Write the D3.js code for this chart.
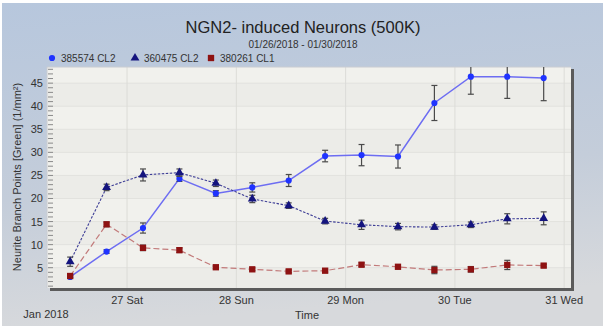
<!DOCTYPE html>
<html>
<head>
<meta charset="utf-8">
<script src="https://cdn.jsdelivr.net/npm/d3@7"></script>
<style>
  html, body { margin: 0; padding: 0; background: #fff; }
  text { font-family: "Liberation Sans", Arial, sans-serif; }
</style>
</head>
<body>
<div id="chart"></div>
<script>
/**
 * CONSTANTS AND GLOBALS
 * */
const width = 605,
  height = 328,
  panel = { left: 47, top: 67, right: 571, bottom: 288 };

// sample times (every 8 hours)
const times = [
  "2018-01-26 11:30", "2018-01-26 19:30", "2018-01-27 03:30", "2018-01-27 11:30",
  "2018-01-27 19:30", "2018-01-28 03:30", "2018-01-28 11:30", "2018-01-28 19:30",
  "2018-01-29 03:30", "2018-01-29 11:30", "2018-01-29 19:30", "2018-01-30 03:30",
  "2018-01-30 11:30", "2018-01-30 19:30",
];

// 385574 CL2
const valuesA = [3.0, 8.5, 13.6, 24.3, 21.1, 22.4, 23.9, 29.2, 29.4, 29.1, 40.7, 46.4, 46.4, 46.1];
const errorsA = [0.3, 0.4, 1.1, 0.6, 0.6, 1.0, 1.3, 1.25, 2.3, 2.5, 3.8, 3.8, 4.7, 4.9];
// 360475 CL2
const valuesB = [6.3, 22.4, 25.1, 25.6, 23.3, 19.9, 18.45, 15.1, 14.3, 13.9, 13.8, 14.3, 15.6, 15.7];
const errorsB = [1.0, 0.7, 1.3, 0.8, 0.7, 0.8, 0.6, 0.6, 1.0, 0.7, 0.5, 0.6, 1.1, 1.4];
// 380261 CL1
const valuesC = [3.2, 14.4, 9.3, 8.8, 5.1, 4.65, 4.2, 4.35, 5.65, 5.2, 4.5, 4.65, 5.6, 5.45];
const errorsC = [0.3, 0.5, 0.6, 0.5, 0.3, 0.3, 0.3, 0.3, 0.4, 0.4, 0.8, 0.6, 1.0, 0.3];

const seriesNames = ["385574 CL2", "360475 CL2", "380261 CL1"];

// axis ticks
const xTickDays = ["2018-01-27", "2018-01-28", "2018-01-29", "2018-01-30", "2018-01-31"];
const yTicks = [5, 10, 15, 20, 25, 30, 35, 40, 45];
const yDomain = [0.6, 48.5];
const xDomain = ["2018-01-26 06:25", "2018-01-31 01:30"];

const parseTime = d3.timeParse("%Y-%m-%d %H:%M");
const parseDay = d3.timeParse("%Y-%m-%d");

let svg;

/**
 * INITIALIZING FUNCTION
 * */
function init() {
  const x = d3.scaleTime()
    .domain(xDomain.map(parseTime))
    .range([panel.left, panel.right]);
  const y = d3.scaleLinear()
    .domain(yDomain)
    .range([panel.bottom, panel.top]);

  svg = d3.select("#chart")
    .append("svg")
    .attr("width", width)
    .attr("height", height);

  const defs = svg.append("defs");
  const grad = defs.append("linearGradient")
    .attr("id", "bg")
    .attr("x1", 0).attr("y1", 0).attr("x2", 0.15).attr("y2", 1);
  grad.append("stop").attr("offset", "0%").attr("stop-color", "#b7c7dd");
  grad.append("stop").attr("offset", "60%").attr("stop-color", "#c4cdda");
  grad.append("stop").attr("offset", "100%").attr("stop-color", "#d7d9dc");

  defs.append("clipPath").attr("id", "clip")
    .append("rect")
    .attr("x", panel.left).attr("y", panel.top)
    .attr("width", panel.right - panel.left)
    .attr("height", panel.bottom - panel.top);

  // outer background
  svg.append("rect")
    .attr("x", 2).attr("y", 3)
    .attr("width", width - 4).attr("height", height - 5)
    .attr("fill", "url(#bg)");

  // panel
  svg.append("rect")
    .attr("x", panel.left).attr("y", panel.top)
    .attr("width", panel.right - panel.left)
    .attr("height", panel.bottom - panel.top)
    .attr("fill", "#efefeb");

  // alternating bands
  const bandEdges = [yDomain[0]].concat(yTicks, [yDomain[1]]);
  svg.append("g")
    .selectAll("rect")
    .data(d3.pairs(bandEdges))
    .join("rect")
    .attr("x", panel.left)
    .attr("width", panel.right - panel.left)
    .attr("y", d => y(d[1]))
    .attr("height", d => y(d[0]) - y(d[1]))
    .attr("fill", (d, i) => i % 2 ? "#f1f1ed" : "#ecece8");

  // grid lines
  svg.append("g")
    .selectAll("line")
    .data(yTicks)
    .join("line")
    .attr("x1", panel.left).attr("x2", panel.right)
    .attr("y1", d => y(d)).attr("y2", d => y(d))
    .attr("stroke", "#e2e2de");

  svg.append("g")
    .selectAll("line")
    .data(xTickDays.map(parseDay))
    .join("line")
    .attr("x1", d => x(d)).attr("x2", d => x(d))
    .attr("y1", panel.top).attr("y2", panel.bottom)
    .attr("stroke", "#dcdcd8");

  // panel frame
  svg.append("path")
    .attr("d", `M${panel.left},${panel.bottom}V${panel.top}H${panel.right}`)
    .attr("fill", "none")
    .attr("stroke", "#c9ccd2");
  svg.append("path")
    .attr("d", `M${panel.left + 3},${panel.bottom + 1.5}H${panel.right + 1.5}V${panel.top + 2}`)
    .attr("fill", "none")
    .attr("stroke", "#5b5b5b")
    .attr("stroke-width", 3);

  // y axis: minor ticks inside the panel, labels outside
  const minor = d3.range(1, 49);
  svg.append("g")
    .selectAll("line")
    .data(minor.filter(d => y(d) >= panel.top && y(d) <= panel.bottom))
    .join("line")
    .attr("x1", panel.left + 1).attr("x2", panel.left + 6)
    .attr("y1", d => y(d)).attr("y2", d => y(d))
    .attr("stroke", "#8a8a8a");

  svg.append("g")
    .selectAll("text")
    .data(yTicks)
    .join("text")
    .attr("x", panel.left - 4)
    .attr("y", d => y(d) + 4)
    .attr("text-anchor", "end")
    .attr("font-size", 11)
    .attr("fill", "#333")
    .text(d => d);

  // x axis labels
  const dayFormat = d3.timeFormat("%-d %a");
  svg.append("g")
    .selectAll("text")
    .data(xTickDays.map(parseDay))
    .join("text")
    .attr("x", d => x(d))
    .attr("y", 304)
    .attr("text-anchor", "middle")
    .attr("font-size", 11)
    .attr("fill", "#333")
    .text(dayFormat);

  svg.append("text")
    .attr("x", 46).attr("y", 318)
    .attr("text-anchor", "middle")
    .attr("font-size", 11)
    .attr("fill", "#333")
    .text("Jan 2018");

  svg.append("text")
    .attr("x", 307).attr("y", 319)
    .attr("text-anchor", "middle")
    .attr("font-size", 11)
    .attr("fill", "#333")
    .text("Time");

  svg.append("text")
    .attr("transform", "translate(21,177) rotate(-90)")
    .attr("text-anchor", "middle")
    .attr("font-size", 11)
    .attr("fill", "#333")
    .text("Neurite Branch Points [Green] (1/mm²)");

  // titles
  svg.append("text")
    .attr("x", 303).attr("y", 33)
    .attr("text-anchor", "middle")
    .attr("font-size", 16.5)
    .attr("fill", "#222")
    .text("NGN2- induced Neurons (500K)");
  svg.append("text")
    .attr("x", 303).attr("y", 48)
    .attr("text-anchor", "middle")
    .attr("font-size", 10)
    .attr("fill", "#333")
    .text("01/26/2018 - 01/30/2018");

  // series
  const series = [
    { name: seriesNames[0], values: valuesA, errors: errorsA, line: "#6d6df2", dash: null, width: 1.5,
      marker: "#1f33ff", symbol: d3.symbolCircle, size: 30 },
    { name: seriesNames[1], values: valuesB, errors: errorsB, line: "#3e3e96", dash: "2.5,1.5", width: 1.1,
      marker: "#14147e", symbol: d3.symbolTriangle, size: 34 },
    { name: seriesNames[2], values: valuesC, errors: errorsC, line: "#c27a7a", dash: "6,3", width: 1.2,
      marker: "#8e1212", symbol: d3.symbolSquare, size: 40 },
  ];
  const dates = times.map(parseTime);

  const plot = svg.append("g").attr("clip-path", "url(#clip)");

  const line = d3.line()
    .x(d => x(d.t))
    .y(d => y(d.v));

  series.forEach(s => {
    const pts = s.values.map((v, i) => ({ t: dates[i], v: v, e: s.errors[i] }));
    const g = plot.append("g");

    g.append("path")
      .datum(pts)
      .attr("d", line)
      .attr("fill", "none")
      .attr("stroke", s.line)
      .attr("stroke-width", s.width)
      .attr("stroke-dasharray", s.dash);

    // error bars
    const eb = g.selectAll("g.err")
      .data(pts)
      .join("g")
      .attr("class", "err")
      .attr("stroke", "#4a4a4a")
      .attr("stroke-width", 1.2);
    eb.append("line")
      .attr("x1", d => x(d.t)).attr("x2", d => x(d.t))
      .attr("y1", d => y(d.v - d.e)).attr("y2", d => y(d.v + d.e));
    eb.append("line")
      .attr("x1", d => x(d.t) - 3).attr("x2", d => x(d.t) + 3)
      .attr("y1", d => y(d.v - d.e)).attr("y2", d => y(d.v - d.e));
    eb.append("line")
      .attr("x1", d => x(d.t) - 3).attr("x2", d => x(d.t) + 3)
      .attr("y1", d => y(d.v + d.e)).attr("y2", d => y(d.v + d.e));

    g.selectAll("path.mark")
      .data(pts)
      .join("path")
      .attr("class", "mark")
      .attr("transform", d => `translate(${x(d.t)},${y(d.v)})`)
      .attr("d", d3.symbol().type(s.symbol).size(s.size))
      .attr("fill", s.marker);
  });

  // legend
  const legendX = [52, 135, 211];
  const legend = svg.append("g")
    .selectAll("g")
    .data(series)
    .join("g")
    .attr("transform", (d, i) => `translate(${legendX[i]},58)`);
  legend.append("path")
    .attr("d", d => d3.symbol().type(d.symbol).size(d.size)())
    .attr("fill", d => d.marker);
  legend.append("text")
    .attr("x", 9)
    .attr("y", 4)
    .attr("font-size", 10)
    .attr("fill", "#333")
    .text(d => d.name);
}

init();
</script>
</body>
</html>
